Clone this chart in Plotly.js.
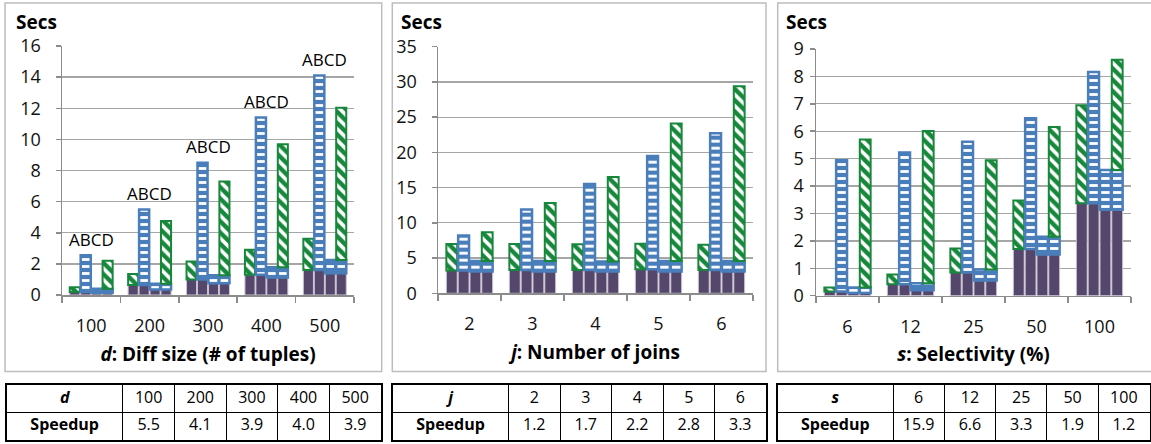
<!DOCTYPE html>
<html><head><meta charset="utf-8">
<script src="https://cdn.plot.ly/plotly-3.0.1.min.js"></script>
<style>html,body{margin:0;padding:0;background:#fff;}#chart{width:1151px;height:444px;}</style>
</head><body><div id="chart"></div>
<script>
// ---------- data ----------
const cats_d = ['100','200','300','400','500'];
const d_baseAB = [0.2, 0.65, 1.0, 1.3, 1.6];
const d_baseCD = [0.15, 0.35, 0.75, 1.12, 1.4];
const d_totA = [0.5, 1.35, 2.15, 2.9, 3.62];
const d_totB = [2.55, 5.5, 8.5, 11.4, 14.1];
const d_totC = [0.4, 0.72, 1.27, 1.78, 2.25];
const d_totD = [2.2, 4.75, 7.3, 9.68, 12.04];

const cats_j = ['2','3','4','5','6'];
const j_baseAB = [3.25, 3.3, 3.3, 3.4, 3.3];
const j_baseCD = [3.1, 3.1, 3.1, 3.1, 3.1];
const j_totA = [7.0, 7.0, 6.95, 7.05, 6.9];
const j_totB = [8.2, 11.9, 15.5, 19.5, 22.7];
const j_totC = [4.6, 4.6, 4.5, 4.6, 4.6];
const j_totD = [8.65, 12.8, 16.5, 24.1, 29.4];

const cats_s = ['6','12','25','50','100'];
const s_baseAB = [0.15, 0.42, 0.85, 1.7, 3.37];
const s_baseCD = [0.1, 0.2, 0.55, 1.5, 3.14];
const s_totA = [0.3, 0.77, 1.72, 3.47, 6.95];
const s_totB = [4.94, 5.22, 5.62, 6.47, 8.16];
const s_totC = [0.3, 0.45, 0.96, 2.15, 4.59];
const s_totD = [5.7, 6.01, 4.94, 6.15, 8.61];

const barLabel = 'ABCD';

const tbl_d_head = ['<b><i>d</i></b>', '100','200','300','400','500'];
const tbl_d_speed = ['<b>Speedup</b>', '5.5','4.1','3.9','4.0','3.9'];
const tbl_j_head = ['<b><i>j</i></b>', '2','3','4','5','6'];
const tbl_j_speed = ['<b>Speedup</b>', '1.2','1.7','2.2','2.8','3.3'];
const tbl_s_head = ['<b><i>s</i></b>', '6','12','25','50','100'];
const tbl_s_speed = ['<b>Speedup</b>', '15.9','6.6','3.3','1.9','1.2'];

const xTitles = ['<b><i>d</i>: Diff size (# of tuples)</b>', '<b><i>j</i>: Number of joins</b>', '<b><i>s</i>: Selectivity (%)</b>'];

// ---------- style ----------
const PURPLE = '#55466b', BLUE = '#4a7ebb', GREEN = '#17873b';
const W = 1151, H = 444;
const FONT = 'Open Sans, Liberation Sans, sans-serif';
const sub = (a, b) => a.map((v, i) => v - b[i]);

function panelTraces(cats, bAB, bCD, tA, tB, tC, tD, ax) {
  const xa = 'x' + ax, ya = 'y' + ax;
  const purple = (y, g) => ({type:'bar', x:cats, y:y, offsetgroup:g, xaxis:xa, yaxis:ya,
    marker:{color:PURPLE, line:{color:'#c9c5d3', width:1}}, hoverinfo:'skip', showlegend:false});
  const blue = (y, base, g) => ({type:'bar', x:cats, y:y, base:base, offsetgroup:g, xaxis:xa, yaxis:ya,
    marker:{color:BLUE, line:{color:BLUE, width:2.5},
      pattern:{shape:'-', fillmode:'replace', bgcolor:BLUE, fgcolor:'#ffffff', size:7, solidity:0.4}},
    hoverinfo:'skip', showlegend:false});
  const green = (y, base, g) => ({type:'bar', x:cats, y:y, base:base, offsetgroup:g, xaxis:xa, yaxis:ya,
    marker:{color:GREEN, line:{color:GREEN, width:2},
      pattern:{shape:'\\', fillmode:'replace', bgcolor:GREEN, fgcolor:'#ffffff', size:8, solidity:0.45}},
    hoverinfo:'skip', showlegend:false});
  return [
    purple(bAB, 'A'), green(sub(tA, bAB), bAB, 'A'),
    purple(bAB, 'B'), blue(sub(tB, bAB), bAB, 'B'),
    purple(bCD, 'C'), blue(sub(tC, bCD), bCD, 'C'),
    purple(bCD, 'D'), blue(sub(tC, bCD), bCD, 'D'), green(sub(tD, tC), tC, 'D')
  ];
}

// tables drawn as text on their own axes; cell borders are the axis grid
const colW = [116, 51.5, 51.5, 51.5, 51.5, 51.5];
const colEdges = colW.reduce((acc, w) => acc.concat(acc[acc.length - 1] + w), [0]);
const colCenters = colW.map((w, i) => colEdges[i] + w / 2);
function tableText(head, speed, ax) {
  return {type:'scatter', mode:'text', xaxis:'x' + ax, yaxis:'y' + ax,
    x:colCenters.concat(colCenters), y:head.map(() => 1.5).concat(speed.map(() => 0.5)),
    text:head.concat(speed), textposition:'middle center', cliponaxis:false,
    textfont:{family:FONT, size:16, color:'#000'}, hoverinfo:'skip', showlegend:false};
}
function tableAxes(layout, ax, x0, x1, y0, y1) {
  layout['xaxis' + ax] = {domain:[x0/W, x1/W], range:[0, colEdges[colEdges.length - 1]], anchor:'y' + ax,
    tickvals:colEdges, showticklabels:false, ticks:'', showgrid:true, gridcolor:'#000', gridwidth:1,
    zeroline:false, showline:true, mirror:true, linecolor:'#000', linewidth:2, fixedrange:true};
  layout['yaxis' + ax] = {domain:[1 - y1/H, 1 - y0/H], range:[0, 2], anchor:'x' + ax,
    tickvals:[0, 1, 2], showticklabels:false, ticks:'', showgrid:true, gridcolor:'#000', gridwidth:1,
    zeroline:false, showline:true, mirror:true, linecolor:'#000', linewidth:2, fixedrange:true};
}

const data = [
  ...panelTraces(cats_d, d_baseAB, d_baseCD, d_totA, d_totB, d_totC, d_totD, ''),
  ...panelTraces(cats_j, j_baseAB, j_baseCD, j_totA, j_totB, j_totC, j_totD, '2'),
  ...panelTraces(cats_s, s_baseAB, s_baseCD, s_totA, s_totB, s_totC, s_totD, '3'),
  tableText(tbl_d_head, tbl_d_speed, '4'),
  tableText(tbl_j_head, tbl_j_speed, '5'),
  tableText(tbl_s_head, tbl_s_speed, '6')
];

function xax(x0, x1, title, n, anchor) {
  return {domain:[x0/W, x1/W], type:'category', range:[-0.5, n - 0.5], anchor:anchor,
    showgrid:false, showline:true, linecolor:'#8c8c8c', linewidth:1.5,
    ticks:'outside', tickson:'boundaries', ticklen:6, tickcolor:'#8c8c8c', tickwidth:1.5,
    ticklabelstandoff:14, tickfont:{family:FONT, size:18, color:'#111'},
    title:{text:title, font:{family:FONT, size:19, color:'#000'}, standoff:11}, fixedrange:true};
}
function yax(y0, y1, max, dtick, anchor, standoff) {
  return {domain:[1 - y1/H, 1 - y0/H], range:[0, max], dtick:dtick, anchor:anchor,
    showgrid:true, gridcolor:'#a6a6a6', gridwidth:1.3, zeroline:false,
    showline:true, linecolor:'#8c8c8c', linewidth:1.5, ticks:'outside', ticklen:5, tickcolor:'#8c8c8c', tickwidth:1.5,
    ticklabelstandoff:standoff, tickfont:{family:FONT, size:18, color:'#111'}, fixedrange:true};
}

const annotations = [];
[14, 399, 784].forEach(px => {
  annotations.push({xref:'paper', yref:'paper', x:px/W, y:1 - 22/H, xanchor:'left', yanchor:'middle',
    text:'<b>Secs</b>', showarrow:false, font:{family:FONT, size:19, color:'#000'}});
});
cats_d.forEach((c, i) => {
  annotations.push({xref:'x', yref:'y', x:i, y:d_totB[i], yanchor:'middle', yshift:16, text:barLabel,
    showarrow:false, font:{family:FONT, size:17, color:'#000'}});
});

const frame = (x0, x1) => ({type:'rect', xref:'paper', yref:'paper', x0:x0/W, x1:x1/W, y0:1 - 371.5/H, y1:1 - 3/H,
  line:{color:'#bdbdbd', width:1.5}, fillcolor:'rgba(0,0,0,0)', layer:'below'});

const layout = {
  width:W, height:H, margin:{l:0, r:0, t:0, b:0}, paper_bgcolor:'#fff', plot_bgcolor:'rgba(0,0,0,0)',
  barmode:'group', bargap:0.25, bargroupgap:0.08, showlegend:false, font:{family:FONT},
  xaxis:xax(62, 354, xTitles[0], cats_d.length, 'y'), yaxis:yax(46, 295, 16, 2, 'x', 11),
  xaxis2:xax(438, 753, xTitles[1], cats_j.length, 'y2'), yaxis2:yax(46.7, 293.3, 35, 5, 'x2', 11),
  xaxis3:xax(816, 1131, xTitles[2], cats_s.length, 'y3'), yaxis3:yax(49, 295.7, 9, 1, 'x3', 2),
  annotations:annotations,
  shapes:[frame(5, 381.7), frame(392.3, 766), frame(777.7, 1160)]
};
tableAxes(layout, '4', 6.5, 381, 385, 439.5);
tableAxes(layout, '5', 392.5, 766, 385, 439.5);
tableAxes(layout, '6', 777.5, 1149.5, 385, 439.5);

Plotly.newPlot('chart', data, layout, {displayModeBar:false, staticPlot:true});
</script></body></html>
